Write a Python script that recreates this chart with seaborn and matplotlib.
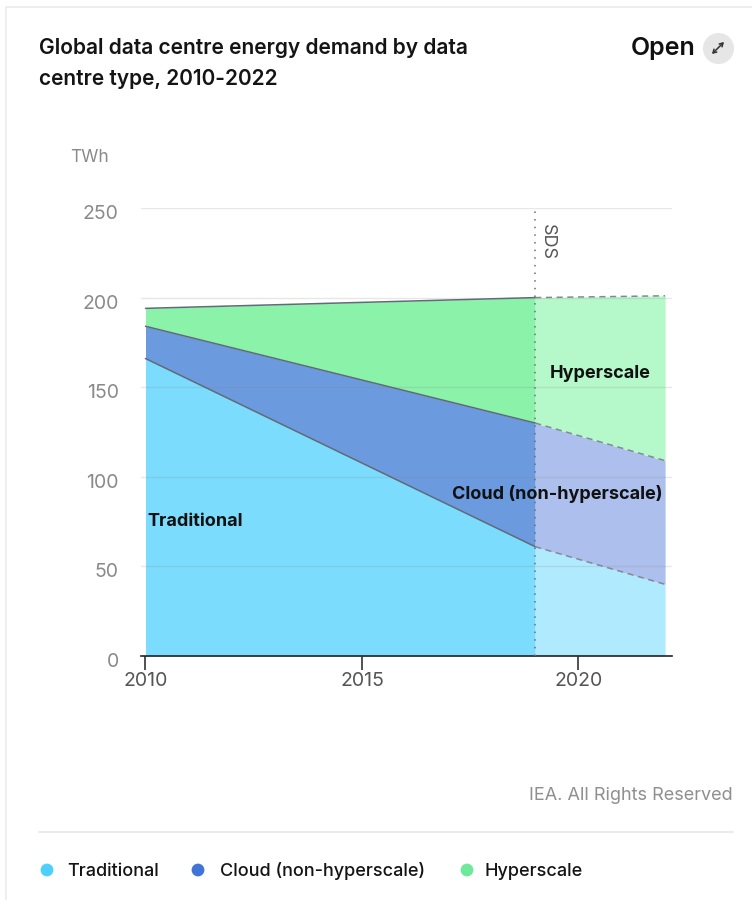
import numpy as np
import pandas as pd
import matplotlib
matplotlib.use("Agg")
import matplotlib.pyplot as plt
from matplotlib.transforms import ScaledTranslation
import seaborn as sns

years = [2010, 2019, 2022]
traditional = [166, 61, 40]
cloud = [18, 69, 69]
hyperscale = [10, 70, 92]
series_names = ["Traditional", "Cloud (non-hyperscale)", "Hyperscale"]
y_ticks = [0, 50, 100, 150, 200, 250]
x_ticks = [2010, 2015, 2020]
projection_start = 2019

solid_colours = ["#7CDCFD", "#6B9ADE", "#8BF2A9"]
light_colours = ["#B0EAFF", "#ADBFEC", "#B5F8C9"]
dot_colours = ["#4DCFFF", "#3E75D6", "#6EE89B"]

W, H = 752, 900
sns.set_theme(style="white")
plt.rcParams["font.family"] = ["Inter", "DejaVu Sans"]

fig = plt.figure(figsize=(W / 100, H / 100), dpi=100, facecolor="white")

# Page furniture lives on a full-figure layer addressed in pixels
page = fig.add_axes([0, 0, 1, 1], zorder=0)
page.set_xlim(0, W)
page.set_ylim(H, 0)
page.axis("off")

# Plot area: y 0-250 spans pixels 656-208, x runs 43.3 px per year
left, right, top, bottom = 141, 672, 208, 656
ax = fig.add_axes([left / W, 1 - bottom / H, (right - left) / W, (bottom - top) / H], zorder=1)
ax.patch.set_alpha(0)
ax.set_xlim(2010 - 4.5 / 43.3, 2010 + 526.5 / 43.3)
ax.set_ylim(0, 250)

# Labels that sit on top of the plotted areas
overlay = fig.add_axes([0, 0, 1, 1], zorder=2)
overlay.set_xlim(0, W)
overlay.set_ylim(H, 0)
overlay.axis("off")

stack = pd.DataFrame({"Year": years, "Traditional": traditional,
                      "Cloud": cloud, "Hyperscale": hyperscale}).set_index("Year")
tops = stack.cumsum(axis=1)
lowers = tops.shift(1, axis=1).fillna(0)

history = tops.index <= projection_start
projection = tops.index >= projection_start
for col, solid, light in zip(tops.columns, solid_colours, light_colours):
    ax.fill_between(tops.index[history], lowers[col][history], tops[col][history],
                    color=solid, lw=0, zorder=1)
    ax.fill_between(tops.index[projection], lowers[col][projection], tops[col][projection],
                    color=light, lw=0, zorder=1)

for value in y_ticks[1:]:
    ax.axhline(value, color="#8A8A8A", lw=1, alpha=0.2, zorder=2)

for col in tops.columns:
    sns.lineplot(x=tops.index[history], y=tops[col][history].values, ax=ax,
                 color="#5F6B78", lw=1.1, zorder=3, legend=False)
    sns.lineplot(x=tops.index[projection], y=tops[col][projection].values, ax=ax,
                 color="#7F8A94", lw=1.1, zorder=3, legend=False, linestyle=(0, (4, 3)))

ax.axvline(projection_start, color="#6F6F6F", lw=1.1, linestyle=(0, (1, 4)), zorder=4)

ax.set_xlabel("")
ax.set_ylabel("")
ax.set_xticks(x_ticks)
ax.set_yticks(y_ticks)
for side in ["top", "left", "right"]:
    ax.spines[side].set_visible(False)
ax.spines["bottom"].set_color("#222222")
ax.spines["bottom"].set_linewidth(1.2)
ax.tick_params(axis="x", length=10, width=1.1, color="#222222", labelsize=14,
               labelcolor="#555555", pad=1.2, bottom=True)
ax.tick_params(axis="y", length=0, labelsize=14, labelcolor="#8A8A8A", pad=16)
# Value labels sit a few pixels below their gridlines
nudge = ScaledTranslation(0, -4 / 100, fig.dpi_scale_trans)
for label in ax.get_yticklabels():
    label.set_transform(label.get_transform() + nudge)

# Direct labels on the areas
for x, y, label, ha in [(147, 522, series_names[0], "left"),
                        (663, 494, series_names[1], "right"),
                        (651, 374, series_names[2], "right")]:
    overlay.text(x, y, label, ha=ha, va="center", fontsize=13, fontweight="bold",
                 color="#111111")
overlay.text(547, 242, "SDS", rotation=270, ha="center", va="center",
             fontsize=13, color="#555555")

# Card outline, header and footer
page.plot([6, 6], [7, H], color="#EBEBEB", lw=1.2)
page.plot([6, W], [7, 7], color="#EBEBEB", lw=1.2)
page.plot([39, 733], [832, 832], color="#E6E6E6", lw=1.2)

page.text(39, 48, "Global data centre energy demand by data", fontsize=15.1, fontweight="semibold",
          color="#141414", va="center")
page.text(39, 79, "centre type, 2010-2022", fontsize=15, fontweight="semibold",
          color="#141414", va="center")
page.text(695, 48, "Open", fontsize=18, fontweight="semibold", color="#111111", ha="right", va="center")
page.scatter([718], [48], s=500, color="#E6E6E6", lw=0)
page.annotate("", xy=(724, 42), xytext=(712, 54),
              arrowprops=dict(arrowstyle="<->,head_length=0.2,head_width=0.12", lw=1.1,
                              color="#333333", shrinkA=0, shrinkB=0))
page.text(70, 157, "TWh", fontsize=12.5, color="#8A8A8A", va="center")
page.text(733, 796, "IEA. All Rights Reserved", fontsize=13, color="#8F8F8F", ha="right", va="center")

# Legend row
sns.scatterplot(x=[47, 198, 467], y=[870, 870, 870], ax=page, hue=series_names,
                palette=dict(zip(series_names, dot_colours)), s=85, linewidth=0, legend=False)
page.set_xlim(0, W)
page.set_ylim(H, 0)
page.axis("off")
for x, label in zip([67, 220, 485], series_names):
    page.text(x, 871, label, fontsize=13, fontweight="medium", color="#141414", va="center")

fig.savefig("out.png", dpi=100, facecolor="white")
